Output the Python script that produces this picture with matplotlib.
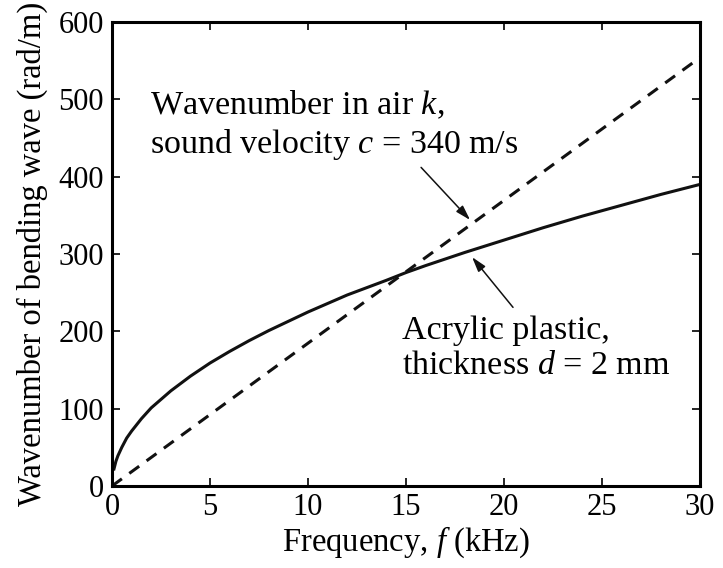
import numpy as np
import matplotlib
matplotlib.use("Agg")
import matplotlib.pyplot as plt

plt.rcParams["font.family"] = ["Liberation Serif", "DejaVu Serif"]
plt.rcParams["mathtext.fontset"] = "custom"
plt.rcParams["mathtext.rm"] = "Liberation Serif"
plt.rcParams["mathtext.it"] = "Liberation Serif:italic"

# Frequency (kHz) and wavenumber (rad/m)
freq_plate = [0.1, 0.2, 0.3, 0.5, 0.75, 1, 1.5, 2, 3, 4, 5, 6, 7, 8, 10, 12, 14, 15, 16, 18, 20, 22, 24, 25, 26, 28, 30]
k_plate = [22, 32, 39, 50, 62, 71, 87, 101, 123, 142, 159, 174, 188, 201, 225, 247, 266, 276, 285, 302, 318, 334, 349, 356, 363, 377, 390]

freq_air = [0, 30]
k_air = [0, 554]

fig = plt.figure(figsize=(7.23, 5.68), dpi=100)
ax = fig.add_axes([112/723, 1-486/568, (700-112)/723, (486-22)/568])

ax.plot(freq_plate, k_plate, color="#111111", lw=2.2)
ax.plot(freq_air, k_air, color="#111111", lw=2.2, dashes=(4, 3))

ax.set_xlim(0, 30)
ax.set_ylim(0, 600)
ax.set_xticks(np.arange(0, 31, 5))
ax.set_yticks(np.arange(0, 601, 100))
ax.tick_params(direction="in", length=6, width=1.2, labelsize=22, top=True, right=True)
ax.tick_params(axis="x", pad=5)
ax.tick_params(axis="y", pad=6)
for s in ax.spines.values():
    s.set_linewidth(2.2)

ax.set_xlabel("Frequency, $f$ (kHz)", fontsize=23.5, labelpad=2)
ax.set_ylabel("Wavenumber of bending wave (rad/m)", fontsize=23.5, labelpad=7)

arrow = dict(arrowstyle="-|>,head_length=0.5,head_width=0.15", color="#111111", lw=1.1,
             shrinkA=0, shrinkB=0, mutation_scale=18)

ax.text(1.95, 466, "Wavenumber in air $k$,\nsound velocity $c$ = 340 m/s", fontsize=24.5,
        ha="left", va="center")
ax.annotate("", xy=(18.27, 344), xytext=(15.77, 412), arrowprops=arrow)
ax.annotate("", xy=(18.37, 296), xytext=(20.46, 231), arrowprops=arrow)
ax.text(14.8, 178, "Acrylic plastic,\nthickness $d$ = 2 mm", fontsize=24.5,
        ha="left", va="center")

fig.savefig("out.png", dpi=100)
